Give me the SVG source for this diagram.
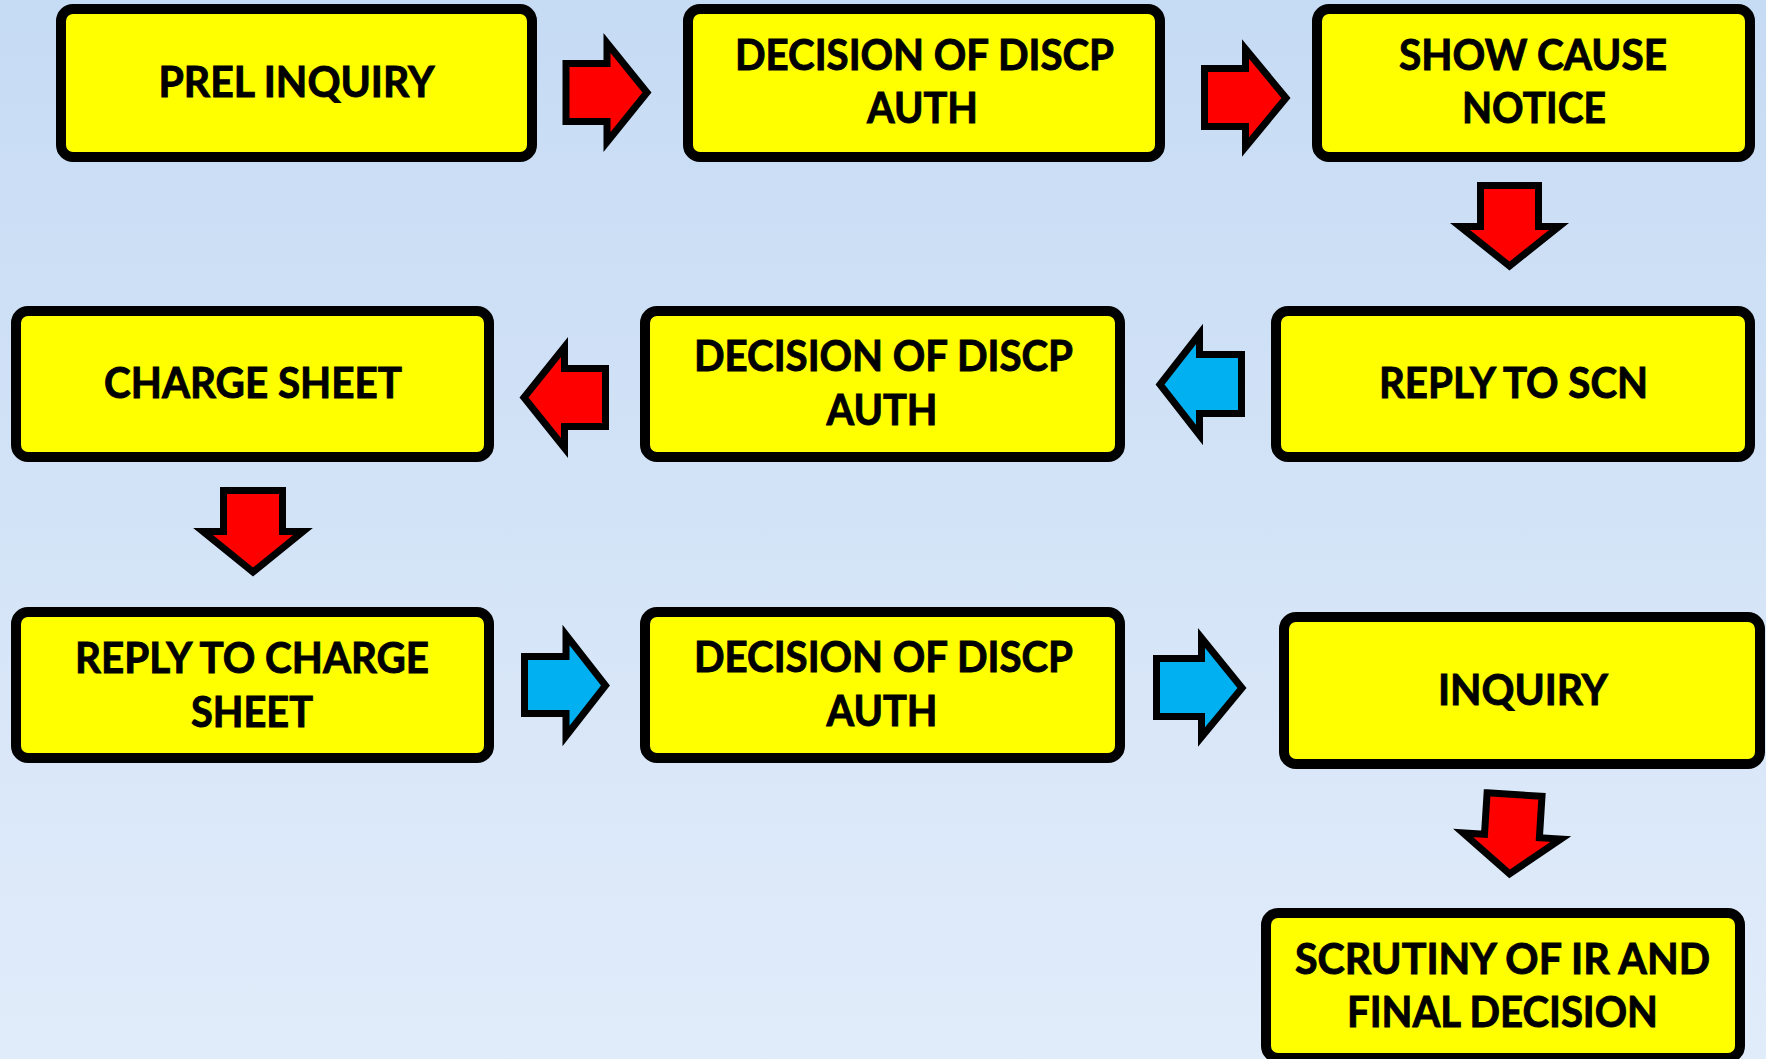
<svg xmlns="http://www.w3.org/2000/svg" width="1766" height="1059" viewBox="0 0 1766 1059">
<defs>
<linearGradient id="bg" x1="0" y1="0" x2="0" y2="1">
<stop offset="0" stop-color="#c6dbf4"/>
<stop offset="1" stop-color="#e1ecfa"/>
</linearGradient>
<style>
.box{fill:#ffff00;stroke:#000;stroke-width:10}
.t{font-family:Lato,"Open Sans","Liberation Sans",sans-serif;font-weight:700;font-size:42px;fill:#000;stroke:#000;stroke-width:0.9;text-anchor:middle}
.ar{stroke:#000;stroke-width:7;stroke-linejoin:miter;stroke-miterlimit:10}
.red{fill:#ff0000}
.blue{fill:#00b0f0}
</style>
</defs>
<rect x="0" y="0" width="1766" height="1059" fill="url(#bg)"/>

<g id="connectors">
<path class="ar red" d="M566,63.5 H607 V43 L647,92.5 L607,142 V121.5 H566 Z"/>
<path class="ar red" d="M1204.5,68.5 H1245.5 V49 L1286,98 L1245.5,147 V126.5 H1204.5 Z"/>
<path class="ar red" d="M1480.5,185.5 H1538.5 V226.5 H1559 L1509.5,266 L1460,226.5 H1480.5 Z"/>
<path class="ar blue" d="M1241.5,354.5 H1199.5 V334 L1160,384.5 L1199.5,435 V413.5 H1241.5 Z"/>
<path class="ar red" d="M605.5,368.5 H564.5 V347 L524,397.5 L564.5,448 V426.5 H605.5 Z"/>
<path class="ar red" d="M223.5,490.5 H282.5 V531.5 H303 L253,572 L203,531.5 H223.5 Z"/>
<path class="ar blue" d="M524.5,656.5 H566 V635 L605.5,685.5 L566,736 V713.5 H524.5 Z"/>
<path class="ar blue" d="M1156.5,658.5 H1201.5 V638 L1242,688 L1201.5,737 V716.5 H1156.5 Z"/>
<path class="ar red" transform="rotate(3.6 1512 835)" d="M1484.5,794.5 H1539.5 V836 H1561 L1512,874 L1463,836 H1484.5 Z"/>
</g>

<g id="n1">
<rect class="box" x="61" y="9" width="471" height="148" rx="12"/>
<text class="t" x="296.5" y="97" textLength="276" lengthAdjust="spacingAndGlyphs">PREL INQUIRY</text>
</g>
<g id="n2">
<rect class="box" x="688" y="9" width="472" height="148" rx="12"/>
<text class="t" x="924.5" y="70" textLength="379" lengthAdjust="spacingAndGlyphs">DECISION OF DISCP</text>
<text class="t" x="922.5" y="123" textLength="111" lengthAdjust="spacingAndGlyphs">AUTH</text>
</g>
<g id="n3">
<rect class="box" x="1317" y="9" width="433" height="148" rx="12"/>
<text class="t" x="1533" y="70" textLength="268" lengthAdjust="spacingAndGlyphs">SHOW CAUSE</text>
<text class="t" x="1534" y="123" textLength="144" lengthAdjust="spacingAndGlyphs">NOTICE</text>
</g>
<g id="n4">
<rect class="box" x="1276" y="311" width="474" height="146" rx="12"/>
<text class="t" x="1513.5" y="398" textLength="269" lengthAdjust="spacingAndGlyphs">REPLY TO SCN</text>
</g>
<g id="n5">
<rect class="box" x="645" y="311" width="475" height="146" rx="12"/>
<text class="t" x="883.5" y="371" textLength="379" lengthAdjust="spacingAndGlyphs">DECISION OF DISCP</text>
<text class="t" x="882" y="425" textLength="111" lengthAdjust="spacingAndGlyphs">AUTH</text>
</g>
<g id="n6">
<rect class="box" x="16" y="311" width="473" height="146" rx="12"/>
<text class="t" x="253" y="398" textLength="298" lengthAdjust="spacingAndGlyphs">CHARGE SHEET</text>
</g>
<g id="n7">
<rect class="box" x="16" y="612" width="473" height="146" rx="12"/>
<text class="t" x="252" y="673" textLength="354" lengthAdjust="spacingAndGlyphs">REPLY TO CHARGE</text>
<text class="t" x="252" y="727" textLength="122" lengthAdjust="spacingAndGlyphs">SHEET</text>
</g>
<g id="n8">
<rect class="box" x="645" y="612" width="475" height="146" rx="12"/>
<text class="t" x="883.5" y="672" textLength="379" lengthAdjust="spacingAndGlyphs">DECISION OF DISCP</text>
<text class="t" x="882" y="726" textLength="111" lengthAdjust="spacingAndGlyphs">AUTH</text>
</g>
<g id="n9">
<rect class="box" x="1284" y="617" width="476" height="147" rx="12"/>
<text class="t" x="1523" y="705" textLength="170" lengthAdjust="spacingAndGlyphs">INQUIRY</text>
</g>
<g id="n10">
<rect class="box" x="1266" y="913" width="474" height="145" rx="12"/>
<text class="t" x="1502.5" y="974" textLength="415" lengthAdjust="spacingAndGlyphs">SCRUTINY OF IR AND</text>
<text class="t" x="1502.5" y="1027" textLength="311" lengthAdjust="spacingAndGlyphs">FINAL DECISION</text>
</g>
</svg>
